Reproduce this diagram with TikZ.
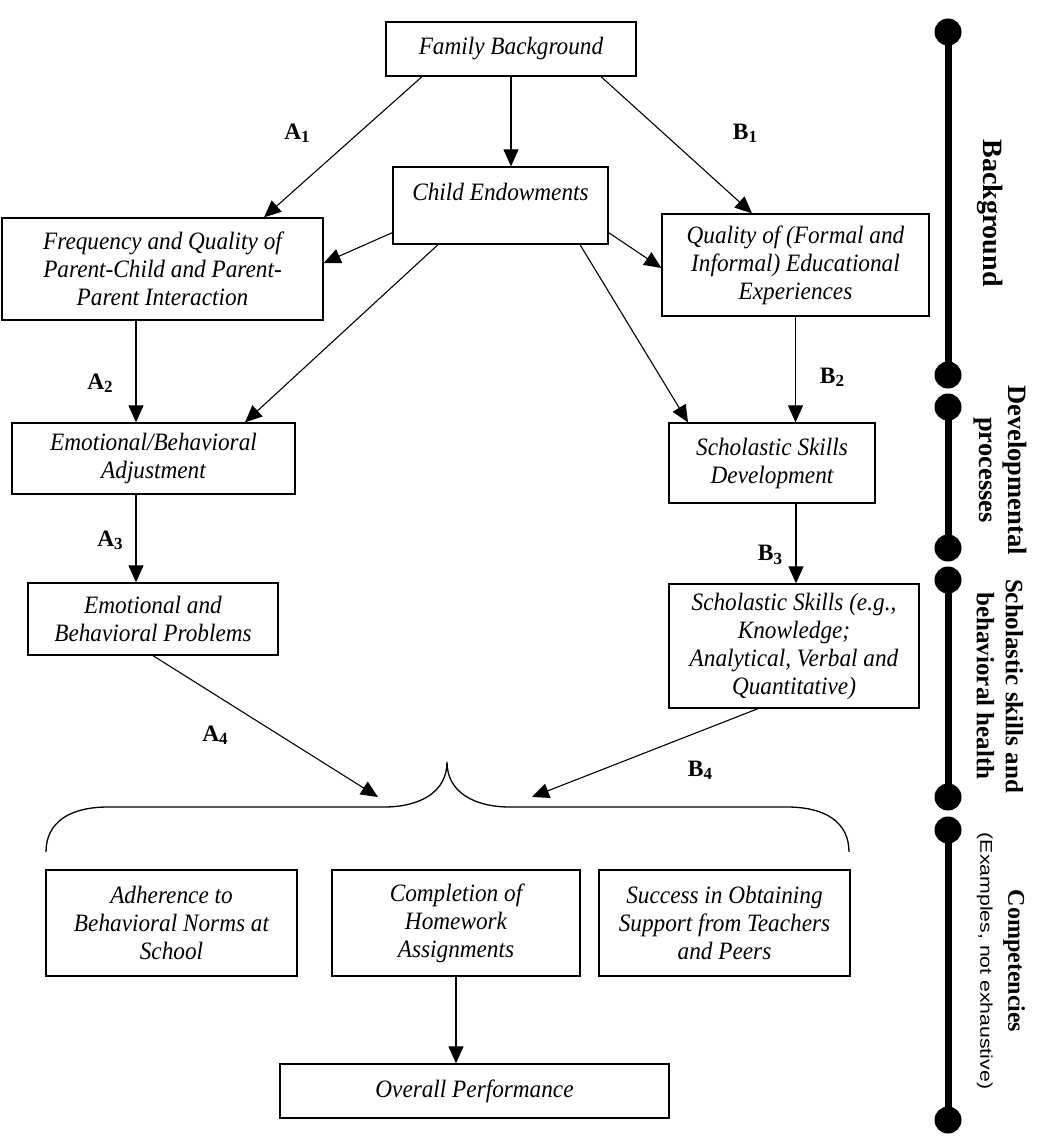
\documentclass[tikz,border=0pt]{standalone}
\usepackage{fontspec}
\usepackage{graphicx}
\setmainfont{Liberation Serif}
\newfontfamily\boxfont[FakeStretch=0.93]{Liberation Serif}
\newfontfamily\sidesans{Liberation Sans}
\usetikzlibrary{arrows.meta}
\newcommand\pathlab[2]{\textbf{#1\raisebox{-0.3ex}{\fontsize{17}{17}\selectfont #2}}}
\begin{document}
\begin{tikzpicture}[x=1pt,y=-1pt,
  box/.style={draw, line width=1.3pt, inner sep=0pt, align=center,
    font=\boxfont\fontsize{25}{28}\selectfont\itshape},
  conn/.style={line width=1.1pt, -{Triangle[length=17pt,width=15pt]}},
  lab/.style={font=\fontsize{23.5}{26}\selectfont, inner sep=0pt},
  side/.style={rotate=-90, align=center, inner sep=0pt, font=\bfseries},
  tl/.style={line width=7pt},
  tdot/.style={circle, fill, inner sep=0pt, minimum size=27pt},
]
\useasboundingbox (0,0) rectangle (1050,1148);

% boxes
\node[box, minimum width=250pt, minimum height=54pt] (fb) at (511,49) {Family Background};
\node[box, minimum width=215pt, minimum height=77pt] (ce) at (500.5,205.5) {Child Endowments\\\mbox{}};
\node[box, minimum width=321pt, minimum height=102pt] (fq) at (162.5,269) {Frequency and Quality of\\Parent-Child and Parent-\\Parent Interaction};
\node[box, minimum width=267pt, minimum height=102pt] (qe) at (795.5,265) {Quality of (Formal and\\Informal) Educational\\Experiences};
\node[box, minimum width=283pt, minimum height=71pt] (eba) at (153.5,458.5) {Emotional/Behavioral\\Adjustment};
\node[box, minimum width=206pt, minimum height=80pt] (ssd) at (772,463) {Scholastic Skills\\Development};
\node[box, minimum width=250pt, minimum height=72pt] (ebp) at (153,619) {Emotional and\\Behavioral Problems};
\node[box, minimum width=250pt, minimum height=124pt] (sse) at (794,646) {Scholastic Skills (e.g.,\\Knowledge;\\Analytical, Verbal and\\Quantitative)};
\node[box, minimum width=251pt, minimum height=106pt] (adh) at (171.5,923) {Adherence to\\Behavioral Norms at\\School};
\node[box, minimum width=248pt, minimum height=106pt] (hw) at (456,923) {Completion of\\Homework\\Assignments};
\node[box, minimum width=251pt, minimum height=106pt] (sup) at (724.5,923) {Success in Obtaining\\Support from Teachers\\and Peers};
\node[box, minimum width=389pt, minimum height=54pt] (ovr) at (474.5,1091) {Overall Performance};

% free arrow ends at the brace
\coordinate (a4tip) at (378,797);
\coordinate (b4tip) at (532,797);

% connectors
\draw[conn] ([xshift=-89pt]fb.south) -- ([xshift=101.5pt]fq.north);
\draw[conn] ([xshift=90pt]fb.south) -- ([xshift=-43.5pt]qe.north);
\draw[conn] (fb.south) -- ([xshift=10.5pt]ce.north);
\draw[conn] ([yshift=12pt]ce.south west) -- ([yshift=6pt]fq.east);
\draw[conn] ([yshift=12pt]ce.south east) -- ([yshift=-3pt]qe.west);
\draw[conn] ([xshift=-62.5pt]ce.south) -- ([xshift=91.5pt]eba.north);
\draw[conn] ([xshift=79.5pt]ce.south) -- ([xshift=-84pt]ssd.north);
\draw[conn] ([xshift=-26.5pt]fq.south) -- ([xshift=-26.5pt]fq.south |- eba.north);
\draw[conn] ([xshift=-17.5pt]eba.south) -- ([xshift=-17.5pt]eba.south |- ebp.north);
\draw[conn] (qe.south) -- (qe.south |- ssd.north);
\draw[conn] ([xshift=24pt]ssd.south) -- ([xshift=24pt]ssd.south |- sse.north);
\draw[conn] (ebp.south) -- (a4tip);
\draw[conn] ([xshift=-36pt]sse.south) -- (b4tip);
\draw[conn] (hw.south) -- (hw.south |- ovr.north);

% path labels
\node[lab] (la1) at (297,133) {\pathlab{A}{1}};
\node[lab] (lb1) at (745,133) {\pathlab{B}{1}};
\node[lab] (la2) at (100,383) {\pathlab{A}{2}};
\node[lab] (lb2) at (832,377) {\pathlab{B}{2}};
\node[lab] (la3) at (110,540) {\pathlab{A}{3}};
\node[lab] (lb3) at (770,555) {\pathlab{B}{3}};
\node[lab] (la4) at (215,735) {\pathlab{A}{4}};
\node[lab] (lb4) at (700,770) {\pathlab{B}{4}};

% brace
\draw[line width=1.3pt] (46,852) .. controls (46,822) and (70,807) .. (108,807)
  -- (384,807) .. controls (420,807) and (447,792) .. (447,762)
  .. controls (447,792) and (474,807) .. (510,807)
  -- (787,807) .. controls (825,807) and (849,822) .. (849,852);

% timeline
\draw[tl] (948,32) -- (948,375);
\draw[tl] (948,407) -- (948,548);
\draw[tl] (948,580) -- (948,797);
\draw[tl] (948,830) -- (948,1120);
\foreach \yy/\nm in {32/d1,375/d2,407/d3,548/d4,580/d5,797/d6,830/d7,1120/d8}
  \node[tdot] (\nm) at (948,\yy) {};

% stage labels
\node[side, font=\fontsize{28}{30}\selectfont\bfseries] (s1) at (990,213) {Background};
\node[side, font=\fontsize{26.5}{29}\selectfont\bfseries] (s2) at (1000,470) {Developmental\\processes};
\node[side, font=\fontsize{25}{29}\selectfont\bfseries] (s3) at (1000,686) {Scholastic skills and\\behavioral health};
\node[side, font=\fontsize{24}{28}\selectfont\bfseries] (s4) at (1001,961) {Competencies\\{\sidesans\mdseries\fontsize{17}{17}\selectfont\scalebox{1.25}[1]{(Examples, not exhaustive)}}};
\end{tikzpicture}
\end{document}
